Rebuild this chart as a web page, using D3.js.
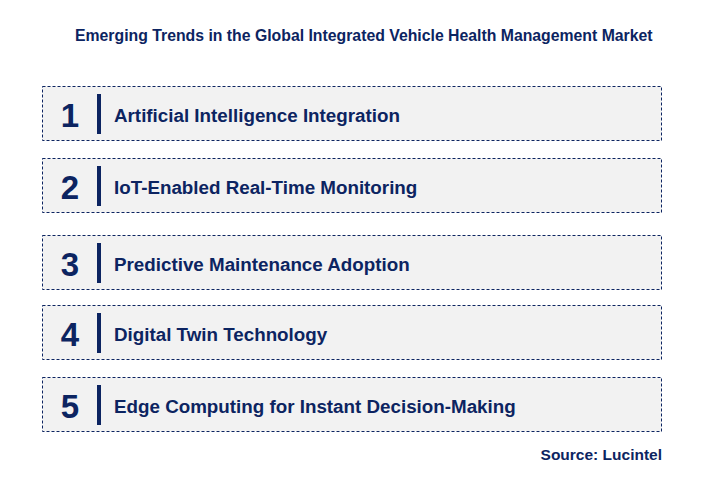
<!DOCTYPE html>
<html><head><meta charset="utf-8">
<script src="https://cdn.jsdelivr.net/npm/d3@7"></script>
<style>body{margin:0;background:#fff}</style></head>
<body><svg id="c" width="728" height="497"></svg>
<script>
const numbers = ["1","2","3","4","5"];
const trends = ["Artificial Intelligence Integration","IoT-Enabled Real-Time Monitoring","Predictive Maintenance Adoption","Digital Twin Technology","Edge Computing for Instant Decision-Making"];
const boxTops = [86,158,235,305,377];
const navy = "#0c2461";
const svg = d3.select("#c");
svg.append("text").attr("x",75).attr("y",41).attr("font-family","Arial, Liberation Sans").attr("font-weight","bold").attr("font-size",15.8).attr("fill",navy).text("Emerging Trends in the Global Integrated Vehicle Health Management Market");
const g = svg.selectAll("g.row").data(trends).enter().append("g").attr("transform",(d,i)=>`translate(0,${boxTops[i]})`);
g.append("rect").attr("x",42.5).attr("y",0.5).attr("width",619).attr("height",54).attr("fill","#f2f2f2").attr("stroke",navy).attr("stroke-width",1).attr("stroke-dasharray","3,2");
g.append("rect").attr("x",97).attr("y",8).attr("width",4).attr("height",40).attr("fill",navy);
g.append("text").attr("x",70).attr("y",41).attr("text-anchor","middle").attr("font-family","Arial, Liberation Sans").attr("font-weight","bold").attr("font-size",33).attr("fill",navy).text((d,i)=>numbers[i]);
g.append("text").attr("x",114).attr("y",36).attr("font-family","Arial, Liberation Sans").attr("font-weight","bold").attr("font-size",18.8).attr("fill",navy).text(d=>d);
svg.append("text").attr("x",662).attr("y",460).attr("text-anchor","end").attr("font-family","Arial, Liberation Sans").attr("font-weight","bold").attr("font-size",15.5).attr("fill",navy).text("Source: Lucintel");
</script></body></html>
